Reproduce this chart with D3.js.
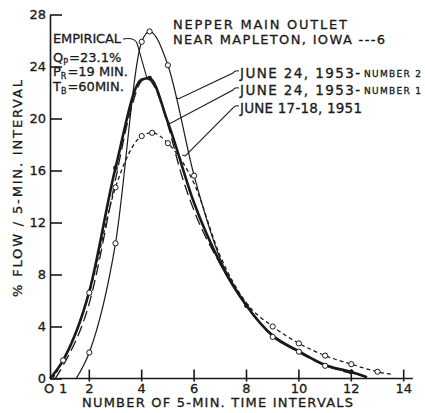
<!DOCTYPE html>
<html>
<head>
<meta charset="utf-8">
<script src="https://cdn.jsdelivr.net/npm/d3@7"></script>
<style>
  body { margin: 0; background: #fff; }
  text { font-family: "DejaVu Sans", "Liberation Sans", sans-serif; fill: #1a1a1a; stroke: #1a1a1a; stroke-width: 0.3px; }
</style>
</head>
<body>
<svg id="chart" width="425" height="413"></svg>
<script>
// Unit hydrographs, Nepper main outlet near Mapleton, Iowa (watershed 6)
// time in 5-minute intervals, flow as % of runoff per 5-minute interval

// June 24, 1953 - number 2
const timeNo2 = [1.5, 2, 3, 4, 4.3, 5, 6, 7, 8, 9, 10, 11, 12, 12.6];
const flowNo2 = [0, 2.0, 10.4, 25.9, 26.7, 24.1, 15.6, 9.2, 5.7, 3.2, 2.06, 0.98, 0.45, 0.1];
const markNo2 = [2, 3, 4, 4.3, 5, 6, 9, 10, 11];

// June 24, 1953 - number 1
const timeNo1 = [0.5, 1, 2, 3, 4, 4.3, 5, 6, 7, 8, 9, 10, 11, 12, 12.6];
const flowNo1 = [0, 1.4, 6.7, 16.2, 23.0, 23.1, 19.7, 13.5, 8.9, 5.6, 3.3, 2.1, 1.05, 0.5, 0.1];
const markNo1 = [3, 4.3, 8, 12];

// June 17-18, 1951
const time1951 = [0.6, 1, 2, 3, 4, 4.4, 5, 6, 7, 8, 9, 10, 11, 12, 13, 13.6];
const flow1951 = [0, 1.4, 6.6, 14.7, 18.65, 18.9, 18.1, 15.0, 9.4, 5.8, 4.0, 2.7, 1.76, 1.1, 0.52, 0.3];
const mark1951 = [1, 2, 3, 4, 4.4, 5, 9, 10, 11, 12, 13];

// Empirical unit hydrograph
const timeEmp = [0.7, 1, 2, 3, 3.5, 4, 4.2, 4.5, 5, 5.5, 6, 7, 8, 9, 10, 11, 12];
const flowEmp = [0, 1.0, 5.8, 15.3, 20.0, 22.9, 23.1, 22.4, 19.5, 15.8, 12.9, 8.8, 5.6, 3.3, 2.0, 1.0, 0.4];
const empiricalText = ["EMPIRICAL", "Q", "P", "=23.1%", "P", "R", "=19 MIN.", "T", "B", "=60MIN."];

// Axes
const yTicks = [0, 4, 8, 12, 16, 20, 24, 28];
const xTicks = [2, 4, 6, 8, 10, 12, 14];
const xExtraLabels = [1];
const xOrigin = 0.5;

const titleLines = ["NEPPER MAIN OUTLET", "NEAR MAPLETON, IOWA ---6"];
const storms = ["JUNE 24, 1953-", "JUNE 24, 1953-", "JUNE 17-18, 1951"];
const stormSuffix = ["NUMBER 2", "NUMBER 1", ""];
// points on each storm curve where the label leader ends
const leaderTime = [5.3, 4.97, 5.55];
const leaderFlow = [21.6, 19.7, 17.2];

const svg = d3.select("#chart");
const x = d3.scaleLinear().domain([0, 14]).range([36.9, 403.7]);
const y = d3.scaleLinear().domain([0, 28]).range([378.5, 14.5]);
const ink = "#1a1a1a";

// y axis: ticks point inwards
const yAxis = svg.append("g")
  .attr("transform", `translate(${x(xOrigin)},0)`)
  .call(d3.axisLeft(y).tickValues(yTicks).tickSizeInner(-12).tickSizeOuter(0).tickPadding(4).tickFormat(d3.format("d")));
yAxis.select(".domain").attr("stroke", ink).attr("stroke-width", 1.6);
yAxis.selectAll(".tick line").attr("stroke", ink).attr("stroke-width", 1.6);
yAxis.selectAll(".tick text").attr("font-size", 13).attr("fill", ink)
  .attr("font-family", "\"DejaVu Sans\", sans-serif");

// x axis
const xAxisY = y(0);
svg.append("line")
  .attr("x1", x(xOrigin)).attr("x2", x(14.35))
  .attr("y1", xAxisY).attr("y2", xAxisY)
  .attr("stroke", ink).attr("stroke-width", 1.6);
const xg = svg.append("g");
xg.selectAll("line.tk").data(xTicks).join("line")
  .attr("x1", d => x(d)).attr("x2", d => x(d))
  .attr("y1", xAxisY - 9).attr("y2", xAxisY + 3)
  .attr("stroke", ink).attr("stroke-width", 1.6);
xg.selectAll("text.tl").data(xTicks.concat(xExtraLabels)).join("text")
  .attr("x", d => x(d)).attr("y", 393)
  .attr("text-anchor", "middle").attr("font-size", 13)
  .text(d => d);
xg.append("text").attr("x", x(xOrigin) - 1).attr("y", 393)
  .attr("text-anchor", "middle").attr("font-size", 13).text("O");

function label(parent, str, px, py, size, len, anchor) {
  const t = parent.append("text").attr("x", px).attr("y", py)
    .attr("font-size", size).attr("text-anchor", anchor || "start").text(str);
  if (len) t.attr("textLength", len).attr("lengthAdjust", "spacing");
  return t;
}

// axis titles
label(svg, "NUMBER OF 5-MIN. TIME INTERVALS", 82, 407, 13, 271);
label(svg.append("g").attr("transform", "translate(22,297) rotate(-90)"),
  "% FLOW / 5-MIN. INTERVAL", 0, 0, 13, 217);

// title
label(svg, titleLines[0], 173, 29, 13, 174);
label(svg, titleLines[1], 173, 44, 13, 212);

// curves
const line = d3.line().x(d => x(d[0])).y(d => y(d[1])).curve(d3.curveMonotoneX);
const zip = (a, b) => a.map((v, i) => [v, b[i]]);
const lookup = (ts, fs, t) => fs[ts.indexOf(t)];

const curves = svg.append("g").attr("fill", "none").attr("stroke", ink);
curves.append("path").attr("d", line(zip(timeEmp, flowEmp)))
  .attr("stroke-width", 1.3).attr("stroke-dasharray", "11,5");
curves.append("path").attr("d", line(zip(time1951, flow1951)))
  .attr("stroke-width", 1.3).attr("stroke-dasharray", "4,3");
curves.append("path").attr("d", line(zip(timeNo1, flowNo1)))
  .attr("stroke-width", 2.6);
curves.append("path").attr("d", line(zip(timeNo2, flowNo2)))
  .attr("stroke-width", 1.2);

// markers
const marks = svg.append("g");
marks.selectAll("circle.a").data(mark1951).join("circle")
  .attr("cx", d => x(d)).attr("cy", d => y(lookup(time1951, flow1951, d)))
  .attr("r", 2.6).attr("fill", "#fff").attr("stroke", ink).attr("stroke-width", 1);
marks.selectAll("circle.b").data(markNo2).join("circle")
  .attr("cx", d => x(d)).attr("cy", d => y(lookup(timeNo2, flowNo2, d)))
  .attr("r", 2.6).attr("fill", "#fff").attr("stroke", ink).attr("stroke-width", 1);
marks.selectAll("circle.c").data(markNo1).join("circle")
  .attr("cx", d => x(d)).attr("cy", d => y(lookup(timeNo1, flowNo1, d)))
  .attr("r", 2.4).attr("fill", ink);

// storm labels with leaders
const labelX = 240, labelBase = [78, 95, 113];
storms.forEach((s, i) => {
  if (stormSuffix[i]) {
    label(svg, s, labelX, labelBase[i], 13.5, 120);
    label(svg, stormSuffix[i], 364, labelBase[i] - 1, 9, 57);
  } else {
    label(svg, s, labelX, labelBase[i], 13.5, 122);
  }
  const sx = labelX - 1, sy = labelBase[i] - 7;
  const tx = x(leaderTime[i]), ty = y(leaderFlow[i]);
  const p = d3.path();
  p.moveTo(sx, sy);
  p.quadraticCurveTo(sx - 4, sy - 1, sx - 6, sy + 2);
  p.lineTo(tx + 3, ty + 1);
  p.lineTo(tx, ty);
  svg.append("path").attr("d", p.toString()).attr("fill", "none")
    .attr("stroke", ink).attr("stroke-width", 1.1);
});

// empirical block
const eb = svg.append("g");
label(eb, empiricalText[0], 53, 43, 13, 68);
function subLine(big, sub, rest, px, py) {
  const t = eb.append("text").attr("x", px).attr("y", py).attr("font-size", 13);
  t.append("tspan").text(big);
  t.append("tspan").attr("font-size", 8).attr("dy", 3).text(sub);
  t.append("tspan").attr("dy", -3).attr("dx", 1).text(rest);
  return t;
}
subLine(empiricalText[1], empiricalText[2], empiricalText[3], 53, 62);
subLine(empiricalText[4], empiricalText[5], empiricalText[6], 53, 76);
subLine(empiricalText[7], empiricalText[8], empiricalText[9], 53, 91);
// leader from the empirical label to its peak
const peakT = 4.2, peakQ = lookup(timeEmp, flowEmp, peakT);
const ep = d3.path();
ep.moveTo(123, 39);
ep.quadraticCurveTo(134, 37, 137, 43);
ep.lineTo(x(peakT), y(peakQ));
svg.append("path").attr("d", ep.toString()).attr("fill", "none")
  .attr("stroke", ink).attr("stroke-width", 1.1);
</script>
</body>
</html>
